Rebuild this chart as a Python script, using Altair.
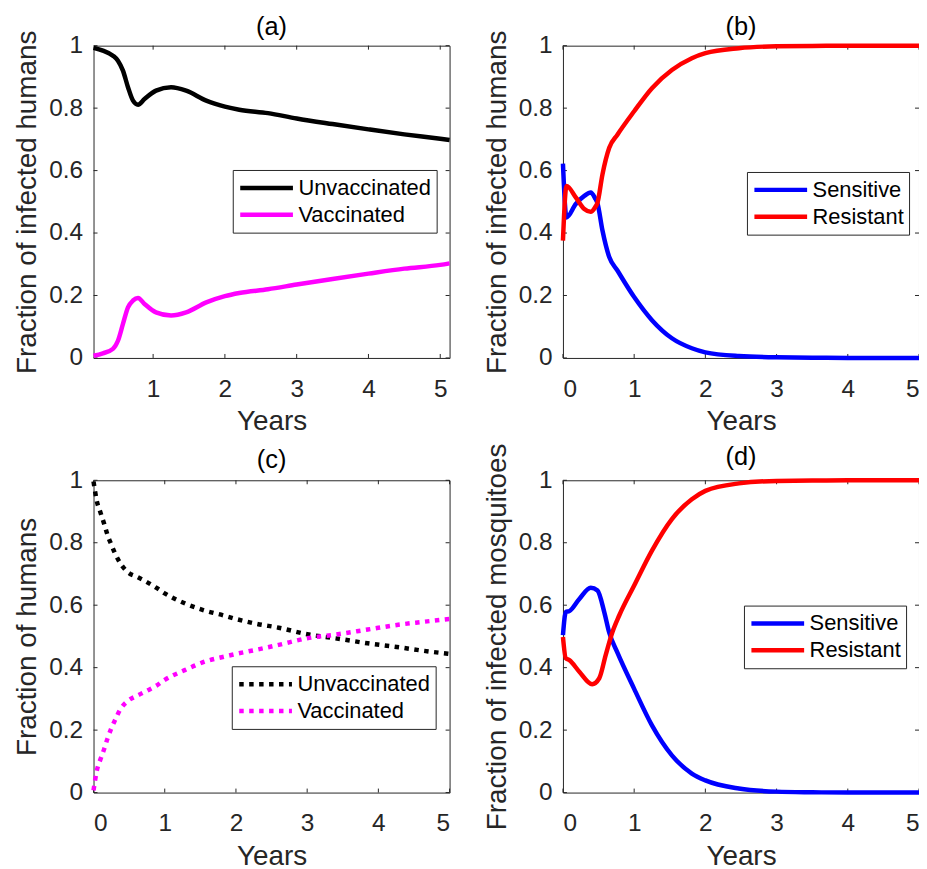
import altair as alt
import pandas as pd

FONT = "Liberation Sans, Arial, Helvetica, sans-serif"
W, H = 358, 314
AXC = "#262626"

# ---------------- data ----------------
# (a) fraction of infected humans, by vaccination status
a_t = [0.17, 0.30, 0.44, 0.51, 0.58, 0.65, 0.72, 0.79, 0.88, 1.04, 1.25, 1.46,
       1.74, 2.0, 2.2, 2.6, 3.0, 3.5, 4.0, 4.5, 5.0, 5.13]
a_unvac = [0.993, 0.984, 0.968, 0.952, 0.92, 0.867, 0.824, 0.811, 0.829, 0.856, 0.867, 0.856,
           0.824, 0.805, 0.795, 0.784, 0.767, 0.749, 0.732, 0.716, 0.702, 0.698]
a_vac = [0.007, 0.015, 0.029, 0.055, 0.109, 0.162, 0.184, 0.192, 0.173, 0.146, 0.136, 0.146,
         0.178, 0.198, 0.208, 0.220, 0.235, 0.253, 0.270, 0.286, 0.298, 0.303]

# (b) fraction of infected humans, sensitive / resistant
b_t = [0, 0.05, 0.18, 0.30, 0.39, 0.45, 0.485, 0.555, 0.65, 0.765, 1.0, 1.25, 1.53,
       1.81, 2.0, 2.47, 3.0, 3.5, 4.0, 5.0]
b_sens = [0.622, 0.45, 0.493, 0.519, 0.53, 0.512, 0.495, 0.408, 0.323, 0.28, 0.195, 0.121,
          0.063, 0.031, 0.018, 0.006, 0.002, 0.001, 0.0, 0.0]
b_res = [0.376, 0.551, 0.514, 0.477, 0.468, 0.482, 0.497, 0.588, 0.673, 0.715, 0.79, 0.864,
         0.922, 0.96, 0.976, 0.992, 0.998, 0.999, 1.0, 1.0]

# (c) fraction of humans, by vaccination status
c_t = [0, 0.046, 0.1, 0.15, 0.195, 0.25, 0.31, 0.38, 0.48, 0.61, 0.75, 0.88, 1.0, 1.28,
       1.56, 1.83, 2.0, 2.3, 2.6, 3.0, 3.4, 3.85, 4.3, 4.6, 5.0]
c_unvac = [0.996, 0.934, 0.895, 0.86, 0.826, 0.794, 0.762, 0.733, 0.706, 0.691, 0.674, 0.656,
           0.638, 0.606, 0.583, 0.567, 0.556, 0.54, 0.528, 0.507, 0.494, 0.478, 0.465, 0.455, 0.444]
c_vac = [0.007, 0.07, 0.108, 0.14, 0.172, 0.206, 0.236, 0.268, 0.293, 0.31, 0.326, 0.342,
         0.361, 0.392, 0.419, 0.435, 0.444, 0.458, 0.473, 0.494, 0.506, 0.522, 0.538, 0.546, 0.556]

# (d) fraction of infected mosquitoes, sensitive / resistant
d_t_sens = [0, 0.04, 0.09, 0.23, 0.39, 0.485, 0.58, 0.65, 0.765, 1.0, 1.25, 1.53, 1.81,
            2.0, 2.47, 3.0, 3.5, 4.0, 5.0]
d_sens = [0.504, 0.578, 0.581, 0.62, 0.656, 0.647, 0.578, 0.512, 0.448, 0.332, 0.215, 0.119,
          0.061, 0.039, 0.013, 0.003, 0.001, 0.0, 0.0]
d_t_res = [0, 0.04, 0.09, 0.23, 0.41, 0.51, 0.6, 0.695, 0.79, 1.0, 1.25, 1.53, 1.81,
           2.0, 2.47, 3.0, 3.5, 4.0, 5.0]
d_res = [0.498, 0.43, 0.424, 0.387, 0.347, 0.366, 0.44, 0.514, 0.567, 0.663, 0.775, 0.876,
         0.939, 0.966, 0.99, 0.998, 0.999, 1.0, 1.0]

vac_names = ["Unvaccinated", "Vaccinated"]
vac_colors = ["#000000", "#ff00ff"]
res_names = ["Sensitive", "Resistant"]
res_colors = ["#0000ff", "#ff0000"]

y_ticks = [0, 0.2, 0.4, 0.6, 0.8, 1]
x_ticks_a = [1, 2, 3, 4, 5]
x_ticks = [0, 1, 2, 3, 4, 5]


def long_df(series):
    rows = []
    for name, ts, vs in series:
        for t, v in zip(ts, vs):
            rows.append({"t": t, "v": v, "s": name})
    return pd.DataFrame(rows)


def panel(df, title, toff, ytitle, xdomain, xticks, names, colors, lx, ly, dash=None):
    x = alt.X("t:Q", scale=alt.Scale(domain=xdomain, nice=False, zero=False),
              axis=alt.Axis(values=xticks, format="d", title="Years"))
    y = alt.Y("v:Q", scale=alt.Scale(domain=[0, 1], nice=False),
              axis=alt.Axis(values=y_ticks, format="~g", title=ytitle))
    leg = dict(title=None, orient="none", legendX=lx, legendY=ly,
               symbolType="stroke", symbolSize=2809, symbolStrokeWidth=4.5,
               clipHeight=26, rowPadding=1, padding=5,
               strokeColor=AXC, fillColor="white",
               labelFont=FONT, labelFontSize=22, labelColor="#000000",
               labelLimit=300, labelOffset=3)
    mk = dict(strokeWidth=4.5, interpolate="monotone", clip=False)
    if dash:
        leg["symbolDash"] = dash
        mk["strokeDash"] = dash
        mk["strokeCap"] = "butt"
    lines = alt.Chart(df).mark_line(**mk).encode(
        x=x, y=y,
        color=alt.Color("s:N", scale=alt.Scale(domain=names, range=colors),
                        legend=alt.Legend(**leg)),
    )
    xt = pd.DataFrame({"t": xticks})
    yt = pd.DataFrame({"v": y_ticks})
    ts = dict(color=AXC, strokeWidth=1)
    top = alt.Chart(xt).mark_rule(**ts).encode(x=x, y=alt.value(0), y2=alt.value(4))
    bot = alt.Chart(xt).mark_rule(**ts).encode(x=x, y=alt.value(H - 4), y2=alt.value(H))
    lef = alt.Chart(yt).mark_rule(**ts).encode(y=y, x=alt.value(0), x2=alt.value(4))
    rig = alt.Chart(yt).mark_rule(**ts).encode(y=y, x=alt.value(W - 4), x2=alt.value(W))
    return alt.layer(top, bot, lef, rig, lines).properties(
        width=W, height=H, title=alt.Title(title, frame="group", offset=toff))


pa = panel(long_df([(vac_names[0], a_t, a_unvac), (vac_names[1], a_t, a_vac)]),
           "(a)", -10.5, "Fraction of infected humans", [0.17, 5.13], x_ticks_a,
           vac_names, vac_colors, 140, 125)
pb = panel(long_df([(res_names[0], b_t, b_sens), (res_names[1], b_t, b_res)]),
           "(b)", -10.5, "Fraction of infected humans", [0, 5], x_ticks,
           res_names, res_colors, 185, 127)
pc = panel(long_df([(vac_names[0], c_t, c_unvac), (vac_names[1], c_t, c_vac)]),
           "(c)", -6, "Fraction of humans", [0, 5], x_ticks,
           vac_names, vac_colors, 139, 187, dash=[4.5, 5.5])
pd_ = panel(long_df([(res_names[0], d_t_sens, d_sens), (res_names[1], d_t_res, d_res)]),
            "(d)", -28, "Fraction of infected mosquitoes", [0, 5], x_ticks,
            res_names, res_colors, 182, 126)

chart = alt.concat(
    pa, pb, pc, pd_, columns=2,
    spacing={"row": 123, "column": 114}, bounds="flush",
).resolve_scale(color="independent").resolve_legend(color="independent").properties(
    padding={"left": 5, "top": 3.5, "right": -10, "bottom": 0},
    background="white",
).configure_view(
    stroke=AXC, strokeWidth=1
).configure_axis(
    labelFont=FONT, labelFontSize=24.5, labelColor=AXC,
    titleFont=FONT, titleFontSize=28, titleFontWeight="normal", titleColor=AXC,
    grid=False, domain=False, ticks=False, tickSize=0,
).configure_axisX(
    labelPadding=19.5, titlePadding=7
).configure_axisY(
    labelPadding=11, titlePadding=7
).configure_title(
    font=FONT, fontSize=25.5, fontWeight="normal", color="#000000",
    baseline="alphabetic", anchor="middle"
)

chart.save("out.html", embed_options={"renderer": "svg", "actions": False})
